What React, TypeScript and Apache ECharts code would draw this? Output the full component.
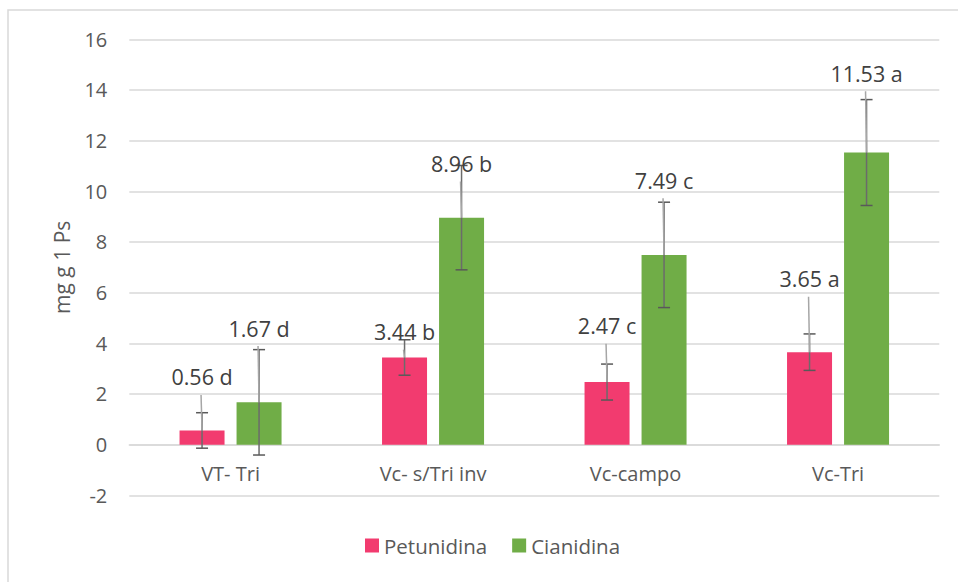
import React, { useEffect, useRef } from "react";
import * as echarts from "echarts";

const categories = ["VT- Tri", "Vc- s/Tri inv", "Vc-campo", "Vc-Tri"];
const seriesNames = ["Petunidina", "Cianidina"];
const petunidina = [0.56, 3.44, 2.47, 3.65];
const cianidina = [1.67, 8.96, 7.49, 11.53];
const petunidinaErr = [0.7, 0.7, 0.71, 0.72];
const cianidinaErr = [2.08, 2.06, 2.08, 2.09];
const petunidinaLetters = ["d", "b", "c", "a"];
const cianidinaLetters = ["d", "b", "c", "a"];
// label centres, read in axis units
const petunidinaLabelAt = [2.67, 4.46, 4.69, 6.55];
const cianidinaLabelAt = [4.6, 11.1, 10.44, 14.66];
const yTicks = { min: -2, max: 16, interval: 2 };

const FONT = "'Open Sans', 'Liberation Sans', sans-serif";
const BAR_W = 45;
const BAR_GAP = 12;
const PINK = "#F23B6F";
const GREEN = "#70AD47";
const W = 958;
const H = 582;
const GRID = { left: 129.3, right: 18.7, top: 39.3, bottom: 86.7 };
const plotH = H - GRID.top - GRID.bottom;
const zeroOffset = -((0 - yTicks.min) / (yTicks.max - yTicks.min)) * plotH;

function makeOverlay(
  values: number[],
  errs: number[],
  letters: string[],
  labelAt: number[],
  sign: number,
  name: string
) {
  const data = values.map((v, i) => [i, v, errs[i], labelAt[i]]);
  return {
    type: "custom",
    name: name + "-err",
    z: 5,
    silent: true,
    data,
    encode: { x: 0, y: 1 },
    renderItem: (params: any, api: any) => {
      const i = api.value(0);
      const v = api.value(1);
      const e = api.value(2);
      const la = api.value(3);
      const dx = (sign * (BAR_W + BAR_GAP)) / 2;
      const top = api.coord([i, v]);
      const x = top[0] + dx;
      const hi = api.coord([i, v + e])[1];
      const lo = api.coord([i, v - e])[1];
      const ly = api.coord([i, la])[1];
      const cap = 6;
      const children: any[] = [];
      children.push({
        type: "line",
        shape: { x1: x, y1: hi, x2: x, y2: lo },
        style: { stroke: "#6b6b6b", lineWidth: 1.5 },
      });
      children.push({
        type: "line",
        shape: { x1: x - cap, y1: hi, x2: x + cap, y2: hi },
        style: { stroke: "#595959", lineWidth: 1.5 },
      });
      children.push({
        type: "line",
        shape: { x1: x - cap, y1: lo, x2: x + cap, y2: lo },
        style: { stroke: "#595959", lineWidth: 1.5 },
      });
      const leadStart = ly + 18;
      if (leadStart < top[1]) {
        children.push({
          type: "line",
          shape: { x1: x - 1, y1: leadStart, x2: x, y2: top[1] },
          style: { stroke: "#a6a6a6", lineWidth: 1.5 },
        });
      }
      children.push({
        type: "text",
        x: x,
        y: ly,
        style: {
          text: v.toFixed(2) + " " + letters[i],
          align: "center",
          verticalAlign: "middle",
          fill: "#404040",
          fontSize: 21.5,
          fontFamily: FONT,
        },
      });
      return { type: "group", children };
    },
  };
}

export default function App() {
  const ref = useRef<HTMLDivElement>(null);
  useEffect(() => {
    if (!ref.current) return;
    const chart = echarts.init(ref.current, null, { renderer: "svg" });
    chart.setOption({
      animation: false,
      backgroundColor: "#ffffff",
      textStyle: { fontFamily: FONT },
      graphic: [
        {
          type: "rect",
          shape: { x: 8, y: 10, width: 980, height: 620 },
          style: { fill: "none", stroke: "#d9d9d9", lineWidth: 1.5 },
          silent: true,
        },
      ],
      grid: GRID,
      legend: {
        data: seriesNames,
        left: 365,
        top: 535,
        padding: 0,
        icon: "rect",
        itemWidth: 14,
        itemHeight: 14,
        itemGap: 25,
        textStyle: { fontSize: 20.5, color: "#595959", fontFamily: FONT },
      },
      xAxis: {
        type: "category",
        data: categories,
        offset: zeroOffset,
        axisLine: { onZero: false, lineStyle: { color: "#d9d9d9", width: 1.5 } },
        axisTick: { show: false },
        axisLabel: { color: "#595959", fontSize: 20, margin: 19, fontFamily: FONT },
      },
      yAxis: {
        type: "value",
        min: yTicks.min,
        max: yTicks.max,
        interval: yTicks.interval,
        name: "mg g 1 Ps",
        nameLocation: "middle",
        nameGap: 57,
        nameTextStyle: { color: "#595959", fontSize: 21, fontFamily: FONT },
        axisLine: { show: false },
        axisTick: { show: false },
        axisLabel: { color: "#595959", fontSize: 20, margin: 22, fontFamily: FONT },
        splitLine: { lineStyle: { color: "#d9d9d9", width: 1.5 } },
      },
      series: [
        {
          type: "bar",
          name: seriesNames[0],
          data: petunidina,
          barWidth: BAR_W,
          barGap: ((BAR_GAP / BAR_W) * 100).toFixed(1) + "%",
          itemStyle: { color: PINK },
        },
        {
          type: "bar",
          name: seriesNames[1],
          data: cianidina,
          barWidth: BAR_W,
          itemStyle: { color: GREEN },
        },
        makeOverlay(petunidina, petunidinaErr, petunidinaLetters, petunidinaLabelAt, -1, seriesNames[0]),
        makeOverlay(cianidina, cianidinaErr, cianidinaLetters, cianidinaLabelAt, 1, seriesNames[1]),
      ],
    });
    return () => chart.dispose();
  }, []);
  return (
    <div
      ref={ref}
      style={{ position: "fixed", left: 0, top: 0, width: W, height: H }}
    />
  );
}
